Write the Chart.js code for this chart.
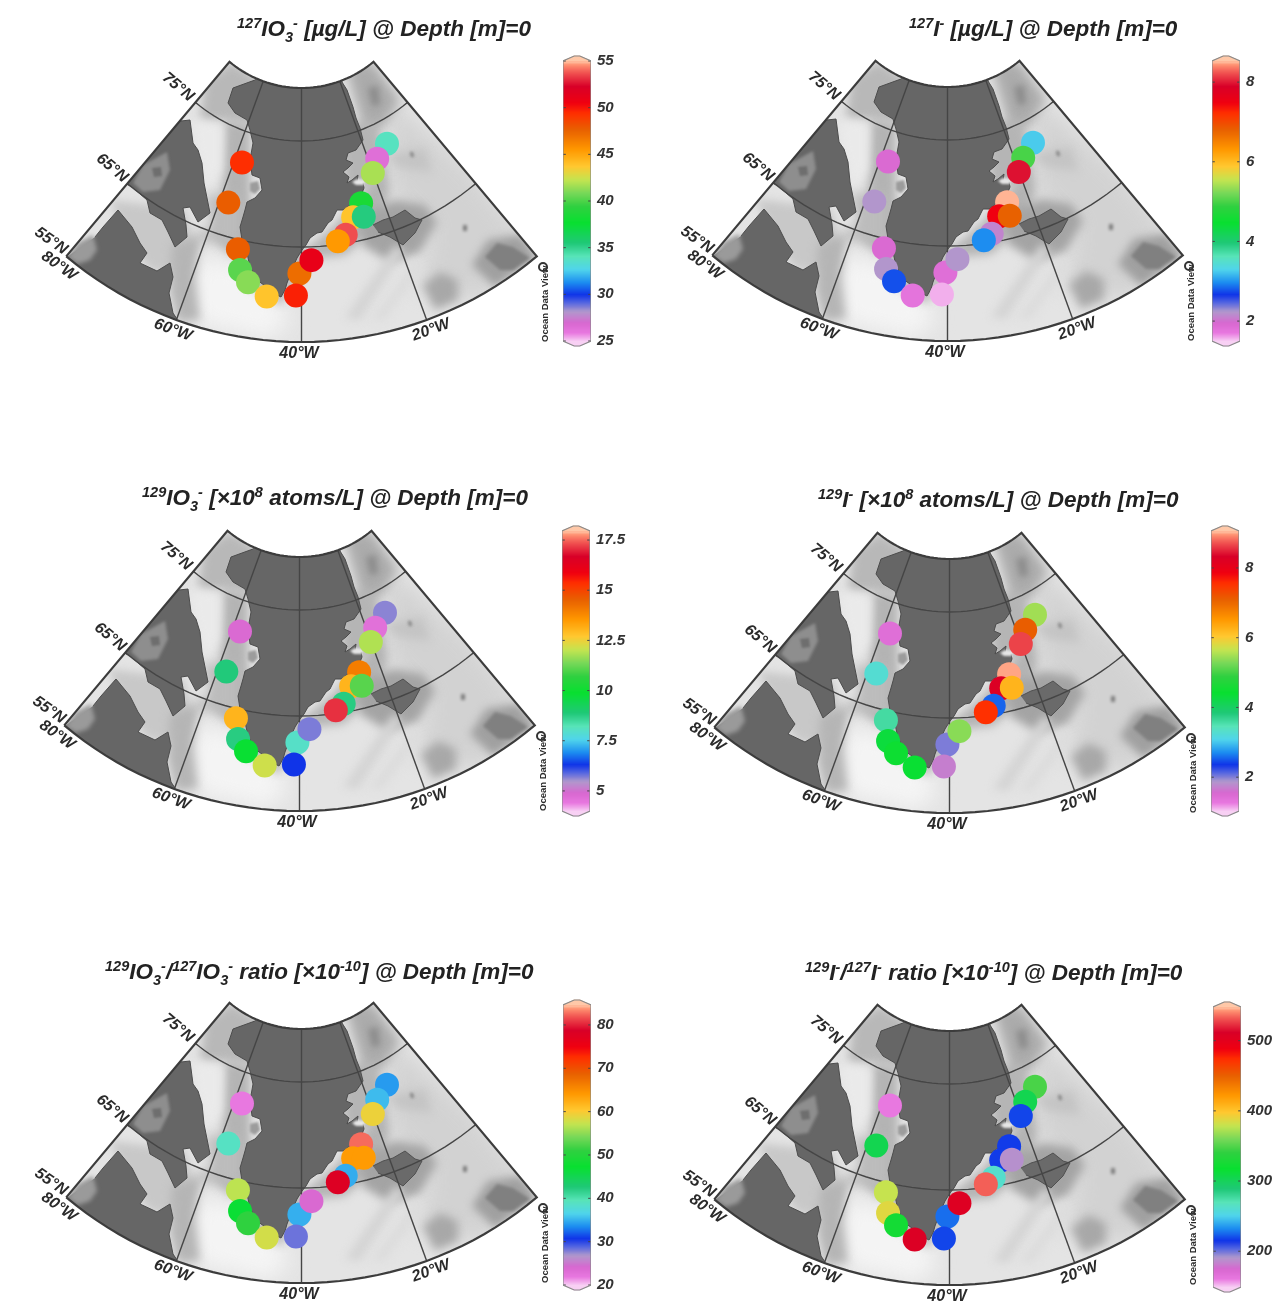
<!DOCTYPE html>
<html>
<head>
<meta charset="utf-8">
<title>Iodine species around Greenland</title>
<script src="https://cdn.jsdelivr.net/npm/chart.js@4"></script>
<style>
  html, body { margin: 0; background: #fff; overflow: hidden; }
  #page { position: relative; width: 1278px; height: 1310px; overflow: hidden; }
  canvas { position: absolute; filter: blur(0.5px); }
  .title { position: absolute; font: italic bold 22.5px "Liberation Sans", Arial, sans-serif; color: #222; white-space: nowrap; line-height: 24px; }
  .title sup, .title sub { font-size: 14.5px; line-height: 0; }
</style>
</head>
<body>
<div id="page"></div>
<script>
// stations in drawing order, the later ones sit on top
const stationLon = [-40.4, -25.3, -27.9, -25.5, -30.3, -32.2, -13.0, -17.5, -20.1, -38.0, -41.0, -53.1, -51.8, -49.9, -46.2, -57.7, -57.9];
const stationLat = [62.2, 68.4, 67.3, 67.1, 65.8, 65.3, 72.8, 71.9, 70.8, 63.6, 59.9, 64.0, 61.9, 60.8, 59.6, 72.1, 68.1];

const iodate127 = [47.2, 38.5, 43.9, 35.4, 53.7, 45.5, 33.9, 26.5, 41.8, 51.1, 49.8, 47.8, 40.3, 41.2, 43.9, 49.5, 47.8];
const iodide127 = [1.85, 8.5, 7.48, 6.81, 2.13, 2.98, 3.26, 5.0, 7.97, 2.24, 1.58, 1.92, 2.24, 2.77, 1.78, 1.92, 2.24];
const iodate129 = [8.05, 14.04, 13.07, 11.1, 8.8, 17.1, 5.67, 4.63, 11.88, 5.74, 6.33, 13.07, 8.8, 9.86, 12.16, 4.84, 8.88];
const iodide129 = [2.03, 9.0, 8.26, 6.25, 2.56, 7.57, 5.49, 7.13, 8.66, 5.37, 1.71, 3.6, 4.32, 4.48, 4.4, 1.43, 3.28];
const ratioIodate = [35, 82.7, 64, 64, 34.9, 78, 34.2, 35.5, 59.4, 24, 28.4, 57, 47, 51, 58, 22, 39];
const ratioIodide = [227, 217, 217, 189, 263, 534, 348, 305, 219, 506, 219, 380, 388, 325, 508, 161, 305];
const panelValues = [iodate127, iodide127, iodate129, iodide129, ratioIodate, ratioIodide];

const panelTitles = [
  '<sup>127</sup>IO<sub>3</sub><sup>-</sup> [µg/L] @ Depth [m]=0',
  '<sup>127</sup>I<sup>-</sup> [µg/L] @ Depth [m]=0',
  '<sup>129</sup>IO<sub>3</sub><sup>-</sup> [×10<sup>8</sup> atoms/L] @ Depth [m]=0',
  '<sup>129</sup>I<sup>-</sup> [×10<sup>8</sup> atoms/L] @ Depth [m]=0',
  '<sup>129</sup>IO<sub>3</sub><sup>-</sup>/<sup>127</sup>IO<sub>3</sub><sup>-</sup> ratio [×10<sup>-10</sup>] @ Depth [m]=0',
  '<sup>129</sup>I<sup>-</sup>/<sup>127</sup>I<sup>-</sup> ratio [×10<sup>-10</sup>] @ Depth [m]=0'
];
const titleLeft = [237, 909, 142, 818, 105, 805];
const titleTop = [17, 17, 486, 488, 960, 961];

const barTicks = [
  [25, 30, 35, 40, 45, 50, 55],
  [2, 4, 6, 8],
  [5, 7.5, 10, 12.5, 15, 17.5],
  [2, 4, 6, 8],
  [20, 30, 40, 50, 60, 70, 80],
  [200, 300, 400, 500]
];
const barLow = [25, 1.5, 4, 1.03, 20, 149];
const barHigh = [55, 8.53, 17.95, 9.06, 84.6, 548];

// ODV style rainbow, position along the bar and colour
const rampStops = [0, 0.03, 0.065, 0.107, 0.137, 0.167, 0.21, 0.256, 0.304, 0.351, 0.423, 0.482, 0.53, 0.577, 0.625, 0.685, 0.756, 0.815, 0.851, 0.91, 0.958, 0.988, 1];
const rampColors = ['#f8d0f4', '#e878e0', '#d868d0', '#b098cc', '#5868e0', '#1034e8', '#1c8cf0', '#50d4ec', '#58e4b8', '#20c878', '#08e030', '#30d040', '#78d858', '#c4e450', '#ffc830', '#ff9800', '#e86000', '#ff3000', '#f00010', '#d80028', '#f05050', '#ff9070', '#ffc8a8'];

// projection rings
const poleX = 301.5;
const poleY = -24;
const ringLat = [55, 65, 75, 80];
const ringRadius = [366, 271, 165, 112];
const sectorLon = [-80, -70, -60, -50, -40, -30, -20, -10, 0];

// coast outlines in map units
const greenland = [[255,80],[233,88],[228,103],[235,113],[247,120],[250,130],[253,143],[250,160],[252,175],[260,178],[262,190],[255,198],[247,202],[245,210],[243,217],[240,227],[242,240],[247,253],[250,267],[257,280],[268,288],[272,294],[277,295],[281,297],[285,290],[287,283],[293,267],[297,258],[302,250],[306,245],[310,238],[317,233],[322,232],[328,223],[332,220],[337,210],[343,210],[350,205],[356,198],[362,193],[364,188],[363,183],[357,182],[358,175],[352,180],[347,183],[349,177],[343,172],[348,168],[353,163],[346,160],[348,153],[356,150],[363,140],[360,128],[356,118],[353,107],[347,90],[342,82],[342,50],[255,50]];
const baffin = [[181,121],[190,120],[193,143],[198,150],[202,163],[204,183],[207,198],[210,213],[198,222],[190,207],[183,208],[186,225],[187,237],[175,247],[168,232],[162,220],[150,213],[147,200],[132,187],[100,170],[120,130]];
const foxeBasin = [[133,183],[143,165],[167,152],[170,170],[160,190],[143,192]];
const foxeIsland = [[152,168],[161,167],[162,176],[154,177]];
const quebec = [[95,237],[103,227],[118,210],[132,227],[140,243],[147,253],[140,263],[157,271],[170,263],[173,277],[169,293],[173,313],[177,319],[170,345],[80,320],[40,270],[67,257]];
const hudsonBay = [[67,257],[78,243],[93,235],[97,250],[90,260],[78,264]];
const iceland = [[373,225],[383,220],[393,217],[405,210],[415,218],[422,220],[415,233],[403,245],[390,237],[378,232]];
const disko = [[250,183],[258,181],[260,189],[255,194],[250,191]];
const scoresby = [[352,182],[357,179],[365,180],[364,185],[356,185]];

// sea floor shading, same units, paler or darker than the base colour
const seabedShapes = [
  [[390,100],[470,170],[540,258],[480,300],[420,290],[430,230],[390,190]],
  [[195,255],[260,270],[290,320],[270,340],[195,322]],
  [[205,80],[232,62],[260,80],[255,125],[225,120],[200,120]],
  [[225,120],[250,125],[250,240],[232,255],[215,240],[222,190]],
  [[192,120],[222,125],[222,170],[208,190],[196,150]],
  [[205,195],[240,195],[240,245],[190,240],[212,225]],
  [[110,200],[150,205],[185,210],[195,245],[175,275],[150,270],[130,245]],
  [[172,245],[200,235],[195,280],[200,320],[178,322],[170,290]],
  [[235,240],[245,285],[280,305],[297,285],[310,250],[280,240]],
  [[305,250],[335,225],[365,190],[385,160],[390,190],[380,225],[345,255],[315,258]],
  [[360,215],[395,200],[425,205],[437,222],[420,252],[390,262],[362,245]],
  [[345,65],[373,62],[400,100],[385,125],[365,135],[355,100]],
  [[368,88],[378,86],[380,105],[372,106]],
  [[340,125],[375,120],[385,150],[375,185],[345,190]],
  [[385,155],[425,148],[432,172],[400,168]],
  [[423,285],[440,272],[458,280],[458,300],[435,310]],
  [[472,265],[488,240],[520,235],[537,257],[495,287]],
  [[485,257],[497,243],[513,247],[530,258],[513,270],[500,270]],
  [[345,318],[395,245],[405,250],[360,320]],
  [[370,320],[415,260],[425,265],[385,320]],
  [[410,152],[413,152],[414,157],[411,157]],
  [[463,225],[467,225],[467,231],[463,231]]
];
const seabedGreys = ['#d2d2d2', '#f4f4f4', '#b8b8b8', '#b4b4b4', '#eaeaea', '#bcbcbc', '#c8c8c8', '#b5b5b5', '#c0c0c0', '#b4b4b4', '#a4a4a4', '#ababab', '#8c8c8c', '#b5b5b5', '#c4c4c4', '#a8a8a8', '#a0a0a0', '#808080', '#d4d4d4', '#dcdcdc', '#808080', '#808080'];
const seabedBlur = [10, 10, 5, 5, 5, 6, 4, 5, 4, 5, 5, 6, 3, 5, 5, 5, 4, 1.5, 4, 4, 1.5, 1.5];

// graticule labels
const gridLabels = ['75°N', '65°N', '55°N', '80°W', '60°W', '40°W', '20°W'];
const gridLabelX = [178, 112, 51, 59, 173, 299, 431];
const gridLabelY = [87, 168, 241, 266, 330, 354, 330];
const gridLabelAngle = [40, 40, 35, 35, 20, 0, -20];

// where each panel sits on the page
const panelLeft = [0, 646, -2, 648, 0, 648];
const panelTop = [0, -1, 469, 471, 941, 943];
const barLeft = [563, 1212, 562, 1211, 563, 1213];
const barTop = [61, 61, 531, 531, 1005, 1007];

const mapWidth = 560;
const mapHeight = 365;
const barLength = 280;
const barTip = 5;
const barMargin = 8;

const fontFace = '"Liberation Sans", Arial, sans-serif';

// the fill plugin has to run after the one that sets blur and clip
const fillerPlugin = Chart.registry.plugins.get('filler');
Chart.unregister(fillerPlugin);
Chart.register({
  id: 'seabedLayers',
  beforeDatasetDraw(chart, args) {
    const ds = chart.data.datasets[args.index];
    if (!ds.inSector) return;
    const { ctx, scales } = chart;
    ctx.save();
    ctx.beginPath();
    sectorOutline().forEach((p, i) => {
      const px = scales.x.getPixelForValue(p.x);
      const py = scales.y.getPixelForValue(p.y);
      if (i === 0) ctx.moveTo(px, py); else ctx.lineTo(px, py);
    });
    ctx.closePath();
    ctx.clip();
    if (ds.softness) ctx.filter = 'blur(' + ds.softness + 'px)';
  },
  afterDatasetDraw(chart, args) {
    if (chart.data.datasets[args.index].inSector) chart.ctx.restore();
  }
});
Chart.register(fillerPlugin);

const mapText = {
  id: 'mapText',
  afterDatasetsDraw(chart) {
    const { ctx, scales } = chart;
    ctx.save();
    ctx.fillStyle = '#2a2a2a';
    ctx.textAlign = 'center';
    ctx.textBaseline = 'middle';
    ctx.font = 'italic bold 16px ' + fontFace;
    gridLabels.forEach((label, i) => {
      ctx.save();
      ctx.translate(scales.x.getPixelForValue(gridLabelX[i]), scales.y.getPixelForValue(gridLabelY[i]));
      ctx.rotate(gridLabelAngle[i] * Math.PI / 180);
      ctx.fillText(label, 0, 0);
      ctx.restore();
    });
    // credit line beside the colour bar
    ctx.translate(scales.x.getPixelForValue(545), scales.y.getPixelForValue(342));
    ctx.rotate(-Math.PI / 2);
    ctx.textAlign = 'left';
    ctx.font = 'bold 9.5px ' + fontFace;
    ctx.fillText('Ocean Data View', 0, 0);
    ctx.strokeStyle = '#333';
    ctx.lineWidth = 2;
    ctx.beginPath();
    ctx.arc(75, -2, 4, 0, Math.PI * 2);
    ctx.stroke();
    ctx.restore();
  }
};

function ringRadiusAt(lat) {
  for (let i = 0; i < ringLat.length - 1; i++) {
    if (lat <= ringLat[i + 1] || i === ringLat.length - 2) {
      const t = (lat - ringLat[i]) / (ringLat[i + 1] - ringLat[i]);
      return ringRadius[i] + t * (ringRadius[i + 1] - ringRadius[i]);
    }
  }
}

function project(lon, lat) {
  const r = ringRadiusAt(lat);
  const a = (lon + 40) * Math.PI / 180;
  return { x: poleX + r * Math.sin(a), y: poleY + r * Math.cos(a) };
}

function parallel(lat) {
  const points = [];
  sectorLon.forEach((lon, i) => {
    points.push(project(lon, lat));
    if (i < sectorLon.length - 1) {
      for (let k = 1; k < 5; k++) points.push(project(lon + k * 2, lat));
    }
  });
  return points;
}

function sectorOutline() {
  return parallel(55).concat(parallel(80).reverse());
}

function rampColor(f) {
  f = Math.min(1, Math.max(0, f));
  let i = 0;
  while (i < rampStops.length - 2 && f > rampStops[i + 1]) i++;
  const t = (f - rampStops[i]) / (rampStops[i + 1] - rampStops[i]);
  const a = parseInt(rampColors[i].slice(1), 16);
  const b = parseInt(rampColors[i + 1].slice(1), 16);
  const mix = shift => Math.round(((a >> shift) & 255) * (1 - t) + ((b >> shift) & 255) * t);
  return 'rgb(' + mix(16) + ',' + mix(8) + ',' + mix(0) + ')';
}

function shape(points, fillColor, softness, lineColor, lineWidth, inSector) {
  return {
    data: points,
    showLine: true,
    fill: fillColor ? 'shape' : false,
    backgroundColor: fillColor || 'transparent',
    borderColor: lineColor || 'transparent',
    borderWidth: lineWidth || 0,
    pointRadius: 0,
    softness: softness || 0,
    inSector: inSector !== false
  };
}

const pairs = list => list.map(p => ({ x: p[0], y: p[1] }));
const closed = list => list.concat([list[0]]);

function mapDatasets(p) {
  const low = barLow[p];
  const high = barHigh[p];
  const layers = [];
  layers.push(shape(closed(sectorOutline()), '#e4e4e4'));
  seabedShapes.forEach((s, i) => layers.push(shape(pairs(s), seabedGreys[i], seabedBlur[i])));
  layers.push(shape(pairs(quebec), '#666666', 0.6, '#4c4c4c', 1));
  layers.push(shape(pairs(hudsonBay), '#9a9a9a', 2));
  layers.push(shape(pairs(baffin), '#666666', 0.6, '#4c4c4c', 1));
  layers.push(shape(pairs(foxeBasin), '#8e8e8e', 1.5));
  layers.push(shape(pairs(foxeIsland), '#6e6e6e', 1));
  layers.push(shape(pairs(iceland), '#6a6a6a', 0.6, '#505050', 1));
  layers.push(shape(pairs(greenland), '#666666', 0.6, '#4c4c4c', 1));
  layers.push(shape(pairs(disko), '#9c9c9c', 1));
  layers.push(shape(pairs(scoresby), '#e6e6e6', 0.8));
  [65, 75].forEach(lat => layers.push(shape(parallel(lat), null, 0, '#454545', 1.4)));
  [-60, -40, -20].forEach(lon => layers.push(shape([project(lon, 55), project(lon, 80)], null, 0, '#454545', 1.4)));
  layers.push(shape(closed(sectorOutline()), null, 0, '#3c3c3c', 2.2, false));
  layers.push({
    data: stationLon.map((lon, i) => project(lon, stationLat[i])),
    pointRadius: 12,
    pointBorderWidth: 0,
    pointBackgroundColor: panelValues[p].map(v => rampColor((v - low) / (high - low))),
    showLine: false,
    inSector: false
  });
  // first dataset is painted last
  return layers.reverse();
}

function barDatasets(p) {
  const low = barLow[p];
  const high = barHigh[p];
  const tip = (high - low) * barTip / barLength;
  const sets = [];
  const steps = 140;
  const step = (high - low) / steps;
  for (let i = 0; i < steps; i++) {
    const v = low + i * step;
    const c = rampColor((i + 0.5) / steps);
    sets.push(shape(pairs([[0, v], [1, v], [1, v + step], [0, v + step]]), c, 0, c, 1, false));
  }
  sets.push(shape(pairs([[0, high], [0.4, high + tip], [0.6, high + tip], [1, high]]), rampColors[22], 0, rampColors[22], 1, false));
  sets.push(shape(pairs([[0, low], [0.4, low - tip], [0.6, low - tip], [1, low]]), rampColors[0], 0, rampColors[0], 1, false));
  barTicks[p].forEach(t => {
    sets.push(shape(pairs([[0, t], [0.1, t]]), null, 0, '#444', 1, false));
    sets.push(shape(pairs([[0.9, t], [1, t]]), null, 0, '#444', 1, false));
  });
  const rim = [[0, low], [0.4, low - tip], [0.6, low - tip], [1, low], [1, high], [0.6, high + tip], [0.4, high + tip], [0, high], [0, low]];
  sets.push(shape(pairs(rim), null, 0, '#8a8a8a', 1.2, false));
  return sets.reverse();
}

const page = document.getElementById('page');

function addCanvas(left, top, width, height) {
  const c = document.createElement('canvas');
  c.width = width;
  c.height = height;
  c.style.left = left + 'px';
  c.style.top = top + 'px';
  page.appendChild(c);
  return c;
}

panelValues.forEach((values, p) => {
  const map = addCanvas(panelLeft[p], panelTop[p], mapWidth, mapHeight);
  new Chart(map, {
    type: 'scatter',
    data: { datasets: mapDatasets(p) },
    plugins: [mapText],
    options: {
      responsive: false,
      animation: false,
      layout: { padding: 0, autoPadding: false },
      plugins: { legend: { display: false }, tooltip: { enabled: false } },
      scales: {
        x: { display: false, min: 0, max: mapWidth },
        y: { display: false, min: 0, max: mapHeight, reverse: true }
      }
    }
  });

  // axis range runs past the bar by the tip and a small margin, so the bar keeps its length
  const perPixel = (barHigh[p] - barLow[p]) / barLength;
  const bar = addCanvas(barLeft[p] - 1, barTop[p] - barTip - barMargin, 84, barLength + 2 * (barTip + barMargin));
  new Chart(bar, {
    type: 'scatter',
    data: { datasets: barDatasets(p) },
    options: {
      responsive: false,
      animation: false,
      layout: { padding: { left: 1 }, autoPadding: false },
      plugins: { legend: { display: false }, tooltip: { enabled: false } },
      scales: {
        x: { display: false, min: 0, max: 1 },
        y: {
          position: 'right',
          min: barLow[p] - perPixel * (barTip + barMargin),
          max: barHigh[p] + perPixel * (barTip + barMargin),
          grid: { display: false },
          border: { display: false },
          afterBuildTicks: s => { s.ticks = barTicks[p].map(v => ({ value: v })); },
          afterFit: s => { s.width = 55; s.paddingTop = 0; s.paddingBottom = 0; },
          ticks: {
            padding: -2,
            color: '#333',
            autoSkip: false,
            font: { family: fontFace, size: 15, style: 'italic', weight: 'bold' },
            callback: v => String(v)
          }
        }
      }
    }
  });

  const t = document.createElement('div');
  t.className = 'title';
  t.style.left = titleLeft[p] + 'px';
  t.style.top = titleTop[p] + 'px';
  t.innerHTML = panelTitles[p];
  page.appendChild(t);
});
</script>
</body>
</html>
